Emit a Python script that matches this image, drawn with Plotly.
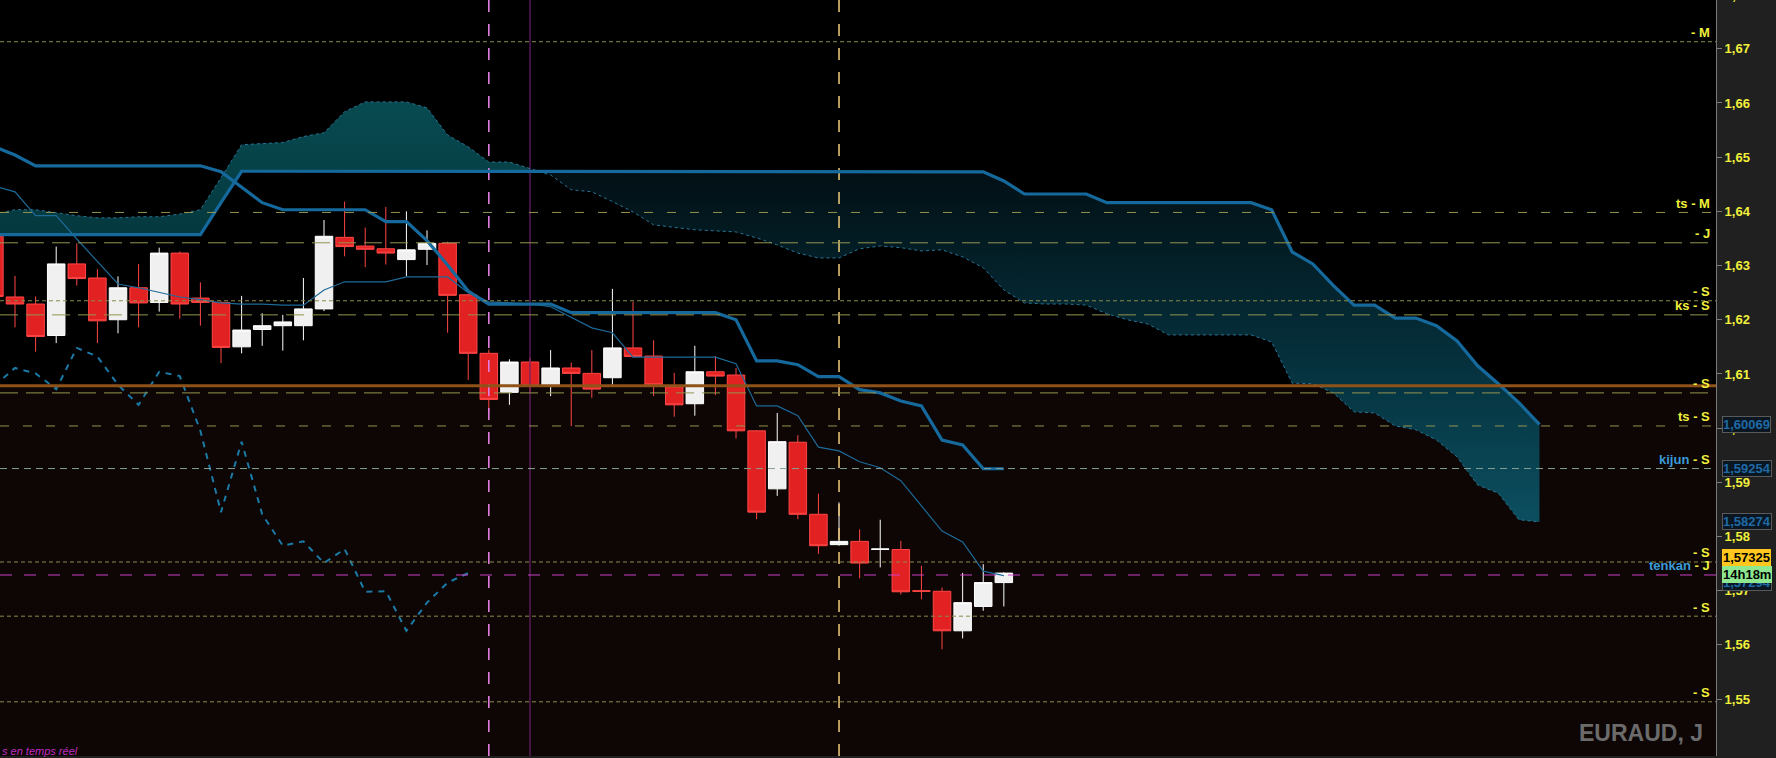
import plotly.graph_objects as go

# ---------------- data ----------------
candle_idx = list(range(-1, 49))
opens = [1.6354, 1.6242, 1.6229, 1.6171, 1.6303, 1.6277, 1.6200, 1.6259, 1.6232, 1.6323,
         1.6240, 1.6232, 1.6150, 1.6182, 1.6189, 1.6189, 1.6220, 1.6352, 1.6336, 1.6331,
         1.6311, 1.6330, 1.6341, 1.6246, 1.6138, 1.6066, 1.6122, 1.6080, 1.6111, 1.6101,
         1.6093, 1.6148, 1.6133, 1.6076, 1.6045, 1.6104, 1.6098, 1.5995, 1.5888, 1.5974,
         1.5841, 1.5785, 1.5791, 1.5776, 1.5776, 1.5700, 1.5699, 1.5626, 1.5671, 1.5715]
highs = [1.6365, 1.6281, 1.6243, 1.6335, 1.6341, 1.6293, 1.6280, 1.6303, 1.6333, 1.6326,
         1.6269, 1.6234, 1.6244, 1.6212, 1.6209, 1.6277, 1.6384, 1.6418, 1.6370, 1.6408,
         1.6400, 1.6365, 1.6344, 1.6247, 1.6145, 1.6127, 1.6130, 1.6144, 1.6121, 1.6144,
         1.6257, 1.6233, 1.6162, 1.6102, 1.6152, 1.6133, 1.6111, 1.5996, 1.6028, 1.5987,
         1.5879, 1.5863, 1.5813, 1.5831, 1.5792, 1.5746, 1.5706, 1.5733, 1.5749, 1.5734]
lows = [1.6235, 1.6186, 1.6141, 1.6157, 1.6263, 1.6157, 1.6175, 1.6186, 1.6215, 1.6202,
        1.6189, 1.6120, 1.6138, 1.6152, 1.6143, 1.6162, 1.6216, 1.6317, 1.6297, 1.6302,
        1.6280, 1.6301, 1.6176, 1.6089, 1.6030, 1.6043, 1.6067, 1.6059, 1.6004, 1.6056,
        1.6080, 1.6130, 1.6059, 1.6021, 1.6023, 1.6061, 1.5981, 1.5832, 1.5875, 1.5832,
        1.5768, 1.5783, 1.5723, 1.5743, 1.5693, 1.5684, 1.5592, 1.5612, 1.5663, 1.5671]
closes = [1.6243, 1.6229, 1.6169, 1.6303, 1.6276, 1.6198, 1.6259, 1.6231, 1.6323, 1.6229,
          1.6232, 1.6149, 1.6181, 1.6189, 1.6196, 1.6220, 1.6354, 1.6335, 1.6330, 1.6323,
          1.6329, 1.6341, 1.6245, 1.6138, 1.6053, 1.6122, 1.6078, 1.6111, 1.6101, 1.6072,
          1.6148, 1.6132, 1.6080, 1.6043, 1.6104, 1.6096, 1.5995, 1.5845, 1.5975, 1.5841,
          1.5783, 1.5791, 1.5751, 1.5777, 1.5698, 1.5699, 1.5626, 1.5678, 1.5715, 1.57325]

tenkan = [1.6447, 1.6436, 1.6392, 1.6392, 1.6349, 1.6307, 1.6266, 1.6259, 1.6250, 1.6242,
          1.6237, 1.6231, 1.6229, 1.6229, 1.6227, 1.6227, 1.6255, 1.6270, 1.6270, 1.6270,
          1.6279, 1.6279, 1.6279, 1.6250, 1.6233, 1.6231, 1.6229, 1.6224, 1.6205, 1.6185,
          1.6176, 1.6131, 1.6131, 1.6131, 1.6131, 1.6131, 1.6119, 1.6041, 1.6041, 1.6023,
          1.5965, 1.5958, 1.5938, 1.5927, 1.5903, 1.5856, 1.5810, 1.5790, 1.5736, 1.5728]
kijun = [1.6519, 1.6504, 1.6484, 1.6484, 1.6484, 1.6484, 1.6484, 1.6484, 1.6484, 1.6484,
         1.6484, 1.6473, 1.6445, 1.6416, 1.6403, 1.6403, 1.6403, 1.6403, 1.6403, 1.6381,
         1.6381, 1.6346, 1.6301, 1.6253, 1.6229, 1.6229, 1.6229, 1.6229, 1.6213, 1.6213,
         1.6213, 1.6213, 1.6213, 1.6213, 1.6213, 1.6213, 1.6200, 1.6124, 1.6124, 1.6117,
         1.6095, 1.6095, 1.6071, 1.6065, 1.6050, 1.6041, 1.5978, 1.5969, 1.5925, 1.5925]

cloud_idx = list(range(-1, 75))
senkou_a = [1.6395, 1.6403, 1.6403, 1.6397, 1.6392, 1.6388, 1.6388, 1.6390, 1.6390, 1.6395,
            1.6403, 1.6462, 1.6523, 1.6525, 1.6527, 1.6538, 1.6545, 1.6584, 1.6602, 1.6602,
            1.6602, 1.6591, 1.6541, 1.6519, 1.6491, 1.6491, 1.6479, 1.6467, 1.6440, 1.6436,
            1.6418, 1.6399, 1.6375, 1.6370, 1.6366, 1.6364, 1.6362, 1.6351, 1.6338, 1.6323,
            1.6314, 1.6314, 1.6331, 1.6336, 1.6333, 1.6327, 1.6329, 1.6316, 1.6296, 1.6255,
            1.6231, 1.6229, 1.6229, 1.6227, 1.6211, 1.6200, 1.6192, 1.6172, 1.6172, 1.6172,
            1.6172, 1.6172, 1.6159, 1.6083, 1.6082, 1.6065, 1.6030, 1.6028, 1.6004, 1.5997,
            1.5978, 1.5947, 1.5895, 1.5880, 1.5831, 1.5827]
senkou_b = [1.6357, 1.6357, 1.6357, 1.6357, 1.6357, 1.6357, 1.6357, 1.6357, 1.6357, 1.6357,
            1.6357, 1.6416, 1.6474, 1.6474, 1.6474, 1.6474, 1.6474, 1.6474, 1.6474, 1.6474,
            1.6474, 1.6474, 1.6474, 1.6474, 1.6474, 1.6474, 1.6474, 1.6474, 1.6474, 1.6474,
            1.6474, 1.6474, 1.6474, 1.6474, 1.6474, 1.6474, 1.6473, 1.6473, 1.6473, 1.6473,
            1.6473, 1.6473, 1.6473, 1.6473, 1.6473, 1.6473, 1.6473, 1.6473, 1.6473, 1.6456,
            1.6432, 1.6432, 1.6432, 1.6432, 1.6416, 1.6416, 1.6416, 1.6416, 1.6416, 1.6416,
            1.6416, 1.6416, 1.6403, 1.6325, 1.6303, 1.6263, 1.6227, 1.6227, 1.6203, 1.6203,
            1.6189, 1.6161, 1.6115, 1.6082, 1.6047, 1.6007]

chikou_shift = 26
tick_values = [1.55, 1.56, 1.57, 1.58, 1.59, 1.60, 1.61, 1.62, 1.63, 1.64, 1.65, 1.66, 1.67]

level_values = [1.6713, 1.6398, 1.6342, 1.6235, 1.6209, 1.6065, 1.6004, 1.59254, 1.5753, 1.5729, 1.5653, 1.5495]
level_names = ["", "ts", "", "", "ks", "", "ts", "kijun", "", "tenkan", "", ""]
level_codes = ["M", "M", "J", "S", "S", "S", "S", "S", "S", "J", "S", "S"]
support_line = 1.6078

vline_idx = [23, 25, 40]

box_values = [1.60069, 1.59254, 1.58274]
hidden_value = 1.57294
last_price = 1.57325
countdown = "14h18m"
symbol_text = "EURAUD, J"
status_text = "s en temps réel"

# ---------------- styles ----------------
Y_RANGE = [1.5395, 1.6790]
X_RANGE = [-0.728, 82.57]
FONT = "Liberation Sans"
YEL = "#f0f03c"
BLUE_TXT = "#3a9ad9"
level_dash = ["4px,3px", "9px,14px", "18px,8px", "4px,3px", "18px,8px", "18px,8px",
              "9px,14px", "7px,5px", "4px,3px", "12px,12px", "4px,3px", "4px,3px"]
level_color = ["#8c8c4c", "#94944e", "#94944e", "#8c8c4c", "#94944e", "#94944e",
               "#94944e", "#86a090", "#8c8c4c", "#d040c8", "#8c8c4c", "#8c8c4c"]
vline_style = [dict(color="#e07ee0", width=1.6, dash="12px,12px"),
               dict(color="#6a226a", width=1.2),
               dict(color="#e2c074", width=1.6, dash="12px,12px")]

fig = go.Figure()

# cloud part 1 (senkou A above B)
n1 = cloud_idx.index(25) + 1
fig.add_trace(go.Scatter(
    x=cloud_idx[:n1] + cloud_idx[:n1][::-1],
    y=senkou_a[:n1] + senkou_b[:n1][::-1],
    fill="toself", mode="lines", line=dict(width=0),
    fillgradient=dict(type="vertical", colorscale=[[0, "#04383e"], [1, "#074b51"]]),
    hoverinfo="skip"))
# cloud part 2 (senkou B above A)
s2 = cloud_idx.index(25)
fig.add_trace(go.Scatter(
    x=cloud_idx[s2:] + cloud_idx[s2:][::-1],
    y=senkou_b[s2:] + senkou_a[s2:][::-1],
    fill="toself", mode="lines", line=dict(width=0),
    fillgradient=dict(type="vertical",
                      colorscale=[[0, "#0c4f60"], [0.45, "#05313d"], [1, "#020f14"]]),
    hoverinfo="skip"))

# vertical markers
for v, st in zip(vline_idx, vline_style):
    fig.add_trace(go.Scatter(x=[v, v], y=Y_RANGE, mode="lines", line=st, hoverinfo="skip"))

# candles
fig.add_trace(go.Candlestick(
    x=candle_idx, open=opens, high=highs, low=lows, close=closes,
    increasing=dict(line=dict(color="#ffffff", width=1), fillcolor="#f0f0f0"),
    decreasing=dict(line=dict(color="#ff4646", width=1), fillcolor="#e22222"),
    whiskerwidth=0, hoverinfo="skip"))

# ichimoku lines
fig.add_trace(go.Scatter(x=cloud_idx, y=senkou_a, mode="lines",
                         line=dict(color="#2a7395", width=1, dash="3px,3px"), hoverinfo="skip"))
fig.add_trace(go.Scatter(x=cloud_idx, y=senkou_b, mode="lines",
                         line=dict(color="#16699c", width=3.2), hoverinfo="skip"))
fig.add_trace(go.Scatter(x=candle_idx, y=kijun, mode="lines",
                         line=dict(color="#16699c", width=3.2), hoverinfo="skip"))
fig.add_trace(go.Scatter(x=candle_idx, y=tenkan, mode="lines",
                         line=dict(color="#1d6a98", width=1.2), hoverinfo="skip"))
fig.add_trace(go.Scatter(x=[i - chikou_shift for i in candle_idx[chikou_shift:]],
                         y=closes[chikou_shift:], mode="lines",
                         line=dict(color="#1b7aa6", width=2, dash="6px,6px"), hoverinfo="skip"))

shapes = [
    dict(type="rect", xref="paper", x0=0, x1=1, yref="y", y0=Y_RANGE[0], y1=support_line,
         fillcolor="#0d0604", line=dict(width=0), layer="below"),
]
for val, dash, col in zip(level_values, level_dash, level_color):
    shapes.append(dict(type="line", xref="paper", x0=0, x1=1, yref="y", y0=val, y1=val,
                       line=dict(color=col, width=1, dash=dash), layer="above"))
shapes.append(dict(type="line", xref="paper", x0=0, x1=1, yref="y", y0=support_line,
                   y1=support_line, line=dict(color="#8f5218", width=3), layer="above"))

annotations = []
for val, name, code in zip(level_values, level_names, level_codes):
    if name in ("kijun", "tenkan"):
        txt = f"<span style='color:{BLUE_TXT}'>{name}</span> - {code}"
    elif name:
        txt = f"{name} - {code}"
    else:
        txt = f"- {code}"
    annotations.append(dict(xref="paper", x=1, xanchor="right", xshift=-4,
                            yref="y", y=val, yanchor="middle", yshift=9,
                            text=txt, showarrow=False,
                            font=dict(family=FONT, size=13, color=YEL, weight="bold")))

for val in box_values:
    annotations.append(dict(xref="paper", x=1, xanchor="left", xshift=6,
                            yref="y", y=val, yanchor="middle",
                            text=f"{val:.5f}".replace(".", ","), showarrow=False,
                            bgcolor="#0a1622", bordercolor="#5a5a5a", borderwidth=1, borderpad=0,
                            font=dict(family=FONT, size=13, color="#1f6aa5", weight="bold")))
annotations.append(dict(xref="paper", x=1, xanchor="left", xshift=6,
                        yref="y", y=hidden_value, yanchor="middle", yshift=-8,
                        text=f"{hidden_value:.5f}".replace(".", ","), showarrow=False,
                        bgcolor="#0a1622", bordercolor="#5a5a5a", borderwidth=1, borderpad=0,
                        font=dict(family=FONT, size=13, color="#1f6aa5", weight="bold")))
annotations.append(dict(xref="paper", x=1, xanchor="left", xshift=6,
                        yref="y", y=last_price, yanchor="middle", yshift=16,
                        text=f"{last_price:.5f}".replace(".", ","), showarrow=False,
                        bgcolor="#ffc61e", borderwidth=0, borderpad=1,
                        font=dict(family=FONT, size=13, color="#000000", weight="bold")))
annotations.append(dict(xref="paper", x=1, xanchor="left", xshift=6,
                        yref="y", y=last_price, yanchor="middle", yshift=-1,
                        text=countdown, showarrow=False,
                        bgcolor="#8fe88f", borderwidth=0, borderpad=1,
                        font=dict(family=FONT, size=13, color="#000000", weight="bold")))
annotations.append(dict(xref="paper", x=1, xanchor="left", xshift=7,
                        yref="paper", y=1 + 5 / 756, yanchor="middle",
                        text="1,68", showarrow=False,
                        font=dict(family=FONT, size=13, color=YEL, weight="bold")))
annotations.append(dict(xref="paper", x=1, xanchor="right", xshift=-11,
                        yref="paper", y=1 - 733 / 756, yanchor="middle",
                        text=symbol_text, showarrow=False,
                        font=dict(family=FONT, size=23, color="#6b6b6b", weight="bold")))
annotations.append(dict(xref="paper", x=0, xanchor="left", xshift=0,
                        yref="paper", y=1 - 751 / 756, yanchor="middle",
                        text=status_text, showarrow=False,
                        font=dict(family=FONT, size=11, color="#c02cc0", style="italic")))

fig.update_layout(
    width=1776, height=758,
    margin=dict(l=0, r=60, t=0, b=2, pad=0),
    paper_bgcolor="#202020", plot_bgcolor="#000000",
    showlegend=False, separators=", ",
    boxgap=0.15, boxgroupgap=0,
    xaxis=dict(range=X_RANGE, visible=False, rangeslider=dict(visible=False),
               showgrid=False, zeroline=False),
    yaxis=dict(range=Y_RANGE, side="right", tickvals=tick_values, tickformat=".2f",
               showgrid=False, zeroline=False, ticks="outside", ticklen=5,
               tickcolor="#7a7a7a", showline=True, linecolor="#7a7a7a", linewidth=1,
               tickfont=dict(family=FONT, size=13, color=YEL, weight="bold")),
    shapes=shapes, annotations=annotations,
)

fig.write_html("out.html",
               config={"displayModeBar": False},
               post_script="document.body.style.margin='0';document.body.style.padding='0';"
                           "document.body.style.background='#202020';"
                           "document.body.style.overflow='hidden';")
